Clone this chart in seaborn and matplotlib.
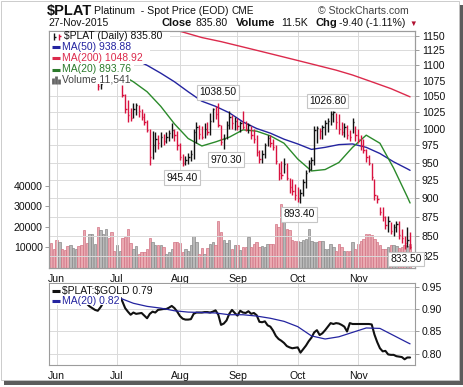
import numpy as np
import pandas as pd
import matplotlib
matplotlib.use("Agg")
import matplotlib.pyplot as plt
import seaborn as sns
from matplotlib.patches import Rectangle
from matplotlib.lines import Line2D
from matplotlib.ticker import FuncFormatter, NullLocator

# ---------------- data ----------------
start_date = "2015-05-28"
end_date = "2015-11-27"
month_labels = ["Jun", "Jul", "Aug", "Sep", "Oct", "Nov"]

close = [1108, 1104, 1098, 1106, 1100, 1092, 1088, 1095, 1102, 1108,
         1100, 1094, 1085, 1080, 1086, 1090, 1094, 1066, 1070, 1078,
         1084, 1080, 1077, 1074, 1078, 1082, 1052, 1030, 1020, 1016,
         1030, 1036, 1026, 1018, 1010, 998, 958, 975, 985, 978,
         988, 982, 988, 993, 998, 990, 975, 958, 950, 954,
         958, 963, 995, 1002, 992, 988, 1000, 995, 1012, 1030,
         1022, 1005, 980, 985, 1005, 1018, 1008, 1012, 1004, 1008,
         1003, 1000, 1005, 990, 984, 965, 955, 962, 975, 986,
         978, 972, 952, 935, 932, 948, 928, 915, 910, 905,
         900, 908, 922, 935, 950, 954, 998, 1001, 996, 1002,
         1008, 1012, 1022, 1025, 1010, 1000, 995, 1002, 990, 988,
         1010, 990, 985, 975, 968, 958, 950, 930, 905, 899,
         882, 875, 865, 870, 857, 862, 866, 852, 848, 842,
         845.2, 835.8]
high = [1115, 1112, 1108, 1110, 1108, 1100, 1094, 1098, 1106, 1112,
        1108, 1102, 1095, 1088, 1090, 1094, 1098, 1072, 1074, 1082,
        1088, 1086, 1082, 1080, 1082, 1086, 1068, 1053, 1044, 1032,
        1039, 1039, 1036, 1030, 1023, 1013, 1000, 996, 994, 990,
        994, 992, 995, 998, 1008, 1000, 996, 978, 962, 960,
        964, 968, 1000, 1010, 1006, 1004, 1008, 1010, 1024, 1032,
        1034, 1038.5, 1006, 992, 1012, 1026, 1020, 1018, 1016, 1012,
        1026, 1012, 1009, 1004, 1000, 990, 968, 968, 979, 990,
        991, 985, 975, 950, 952, 956, 950, 928, 926, 920,
        916, 913, 927, 940, 954, 958, 1004, 1004, 1001, 1005,
        1013, 1016, 1026.8, 1026, 1024, 1022, 1010, 1009, 1005, 998,
        1016, 1004, 1000, 990, 985, 970, 961, 950, 926, 905,
        889, 888, 876, 876, 868, 866, 870, 870, 859, 851,
        862, 856]
low = [1100, 1098, 1092, 1096, 1096, 1088, 1082, 1086, 1094, 1100,
       1096, 1090, 1080, 1075, 1076, 1084, 1088, 1060, 1062, 1073,
       1076, 1076, 1073, 1073, 1073, 1076, 1049, 1024, 1010, 1012,
       1016, 1021, 1018, 1013, 1006, 995, 947, 955, 965, 970,
       973, 975, 978, 982, 986, 982, 968, 954, 945.4, 947,
       948, 952, 955, 978, 985, 984, 986, 990, 990, 1010,
       1015, 1002, 976, 970.3, 984, 1000, 1000, 998, 998, 995,
       1000, 996, 993, 984, 979, 960, 950, 950, 957, 974,
       972, 968, 948, 925, 926, 935, 925, 908, 905, 898,
       895, 893.4, 903, 914, 937, 940, 947, 979, 985, 985,
       990, 995, 1006, 1010, 1000, 992, 990, 988, 985, 982,
       993, 982, 979, 968, 964, 951, 946, 925, 898, 894,
       878, 870, 860, 856, 853, 851, 855, 846, 842, 833.5,
       836, 834]
volume = [12300, 9400, 13800, 12600, 9400, 8900, 10500, 11000, 9900, 9400,
          10500, 11000, 18600, 12300, 16700, 16400, 11800, 20200, 18300, 16700,
          19100, 14700, 17800, 8500, 11000, 8500, 14700, 15000, 19100, 12000,
          9100, 10500, 6600, 8000, 7700, 9100, 14700, 12900, 11400, 11400,
          11000, 10200, 7000, 7700, 9400, 12500, 12500, 12000, 7700, 9100,
          8500, 11400, 15500, 12900, 7000, 9700, 6600, 9700, 11800, 12600,
          11400, 22800, 17800, 13800, 12000, 13500, 9400, 11000, 11000, 8900,
          10200, 10200, 15000, 10200, 11500, 12600, 10200, 10500, 10200, 11500,
          11500, 11500, 21500, 20200, 31300, 24000, 19100, 18300, 13800, 13400,
          13400, 12600, 13800, 14100, 19100, 13400, 12600, 12600, 13400, 13400,
          9400, 9400, 11800, 10200, 8500, 11800, 10200, 8500, 8500, 8500,
          12600, 9400, 11800, 13400, 14100, 16700, 16700, 15900, 14100, 12600,
          11000, 9400, 9400, 10200, 11000, 11000, 10500, 9800, 10200, 11000,
          10500, 11541]
ratio = [0.930, 0.930, 0.925, 0.930, 0.925, 0.920, 0.918, 0.922, 0.925, 0.930,
         0.925, 0.920, 0.915, 0.913, 0.907, 0.903, 0.899, 0.897, 0.905, 0.915,
         0.922, 0.920, 0.925, 0.928, 0.930, 0.931, 0.918, 0.903, 0.895, 0.888,
         0.893, 0.890, 0.891, 0.892, 0.886, 0.880, 0.890, 0.895, 0.893, 0.899,
         0.900, 0.901, 0.901, 0.904, 0.908, 0.903, 0.895, 0.885, 0.879, 0.877,
         0.877, 0.878, 0.890, 0.893, 0.893, 0.893, 0.894, 0.894, 0.893, 0.895,
         0.898, 0.888, 0.865, 0.868, 0.875, 0.890, 0.899, 0.892, 0.886, 0.897,
         0.893, 0.892, 0.896, 0.890, 0.892, 0.887, 0.872, 0.871, 0.873, 0.864,
         0.861, 0.852, 0.840, 0.833, 0.829, 0.824, 0.817, 0.814, 0.812, 0.813,
         0.814, 0.802, 0.810, 0.818, 0.828, 0.836, 0.848, 0.853, 0.842, 0.846,
         0.853, 0.861, 0.869, 0.867, 0.869, 0.868, 0.865, 0.861, 0.850, 0.869,
         0.867, 0.867, 0.867, 0.867, 0.867, 0.867, 0.867, 0.866, 0.843, 0.826,
         0.812, 0.805, 0.806, 0.798, 0.797, 0.797, 0.794, 0.793, 0.792, 0.787,
         0.791, 0.791]

ma_idx = [20, 25, 30, 35, 40, 45, 50, 55, 60, 65, 70, 75, 80, 85, 90, 95,
          100, 105, 110, 115, 120, 125, 130, 131]
ma20 = [1094, 1086, 1073, 1057, 1034, 1007, 985, 974, 980, 987, 998, 996,
        989, 978, 955, 938, 940, 950, 972, 990, 978, 942, 902, 893.76]
ma50 = [1128, 1120, 1111, 1100, 1087, 1073, 1057, 1042, 1034, 1024, 1010, 1000,
        993, 984, 977, 969, 972, 976, 977, 972, 963, 951, 941, 938.88]
ma200_idx = [40, 47, 55, 62, 69, 76, 83, 90, 97, 104, 110, 117, 124, 131]
ma200 = [1168, 1158, 1147, 1140, 1132, 1124, 1116, 1108, 1100, 1092, 1084,
         1073, 1062, 1048.92]
ratio_ma = [0.930, 0.926, 0.914, 0.907, 0.903, 0.897, 0.894, 0.893, 0.892, 0.888,
            0.888, 0.885, 0.880, 0.873, 0.861, 0.840, 0.833, 0.838, 0.848, 0.858,
            0.857, 0.841, 0.825, 0.822]

price_ticks = [825, 850, 875, 900, 925, 950, 975, 1000, 1025, 1050, 1075, 1100, 1125, 1150]
volume_ticks = [10000, 20000, 30000, 40000]
ratio_ticks = [0.80, 0.85, 0.90, 0.95]

# ---------------- setup ----------------
sns.set_theme(style="white")
plt.rcParams['font.family'] = ['Liberation Sans', 'DejaVu Sans']

dates = pd.bdate_range(start_date, end_date)
x = np.arange(len(dates))
month_pos = [int(np.argmax((dates.month == m) & (dates.year == 2015))) for m in range(6, 12)]

close_a = np.array(close, float)
high_a = np.array(high, float)
low_a = np.array(low, float)
prev = np.r_[close_a[0] + 1, close_a[:-1]]
up = close_a >= prev

RED = '#d8123f'
BAR_COLORS = np.where(up, '#111111', RED)
VFILL = np.where(up, '#b9b9b9', '#eaa9b1')
VEDGE = np.where(up, '#8a8a8a', '#d27484')
GRID = '#dadada'
SPINE = '#9c9c9c'
BLUE = '#2424a0'
GREEN = '#2b8a2b'
MA200C = '#dc2a4c'

W, H = 464, 387


def fx(px):
    return px / W


def fy(py):
    return 1 - py / H


def fbox(l, t, r, b):
    return [l / W, 1 - b / H, (r - l) / W, (b - t) / H]


fig = plt.figure(figsize=(W / 100, H / 100), dpi=100)
fig.patch.set_facecolor('white')

# frame + shadow
fig.add_artist(Rectangle((fx(4), fy(385)), 459 / W, 380 / H, transform=fig.transFigure,
                         fc='#5c5c5c', ec='none', zorder=-10))
fig.add_artist(Rectangle((fx(0.5), fy(380)), 458.5 / W, 379.5 / H, transform=fig.transFigure,
                         fc='white', ec='#c4c4c4', lw=0.6, zorder=-9))

# ---------------- main panel ----------------
axv = fig.add_axes(fbox(49, 31, 415, 268))
ax = axv.twinx()

axv.bar(x, volume, width=0.86, color=VFILL, edgecolor=VEDGE, linewidth=0.5, zorder=2)
axv.set_ylim(0, 115600)
axv.set_xlim(-0.8, 132.8)
axv.set_yticks(volume_ticks)
axv.yaxis.set_major_formatter(FuncFormatter(lambda v, p: f"{v:.0f}"))
axv.set_xticks(month_pos)
axv.set_xticklabels(month_labels)
axv.tick_params(axis='both', labelsize=7.6, length=3, width=0.7, pad=1.5,
                direction='out', color=SPINE, labelcolor='#111111')

ax.set_yscale('log')
ax.set_ylim(810.3, 1158.4)
ax.set_yticks(price_ticks)
ax.yaxis.set_minor_locator(NullLocator())
ax.yaxis.set_major_formatter(FuncFormatter(lambda v, p: f"{v:.0f}"))
ax.tick_params(axis='y', labelsize=7.6, length=3, width=0.7, color=SPINE, pad=2, labelcolor='#111111')
ax.yaxis.grid(True, color=GRID, lw=0.7)
for mp in month_pos:
    ax.axvline(mp, color=GRID, lw=0.7, zorder=0.5)

for a in (ax, axv):
    for s in a.spines.values():
        s.set_color(SPINE)
        s.set_linewidth(0.8)

# moving averages
sns.lineplot(x=ma200_idx, y=ma200, ax=ax, color=MA200C, linewidth=1.0, legend=False)
sns.lineplot(x=ma_idx, y=ma50, ax=ax, color=BLUE, linewidth=1.0, legend=False)
sns.lineplot(x=ma_idx, y=ma20, ax=ax, color=GREEN, linewidth=1.0, legend=False)

# HLC bars
ax.vlines(x, low_a, high_a, colors=BAR_COLORS, linewidth=1.0, zorder=3)
ax.hlines(close_a, x, x + 0.5, colors=BAR_COLORS, linewidth=1.0, zorder=3)
ax.set_xlim(-0.8, 132.8)
ax.set_xlabel('')
ax.set_ylabel('')
axv.set_ylabel('')

# value labels
box = dict(boxstyle='square,pad=0.22', fc='white', ec='#c6c6c6', lw=0.8)
labels = [(61, high_a[61], 0, 11), (48, low_a[48], -1, -12), (63, low_a[63], 2, -11),
          (102, high_a[102], -3, 10), (91, low_a[91], -1.5, -11), (129, low_a[129], 1.5, -9.5)]
for i, v, dx, dy in labels:
    ax.annotate(f"{v:.2f}", xy=(i, v), xytext=(dx, dy), textcoords='offset pixels',
                ha='center', va='center', fontsize=7.4, color='#111111', bbox=box,
                zorder=10, annotation_clip=False)

# ---------------- ratio panel ----------------
ax2 = fig.add_axes(fbox(49, 283, 415, 365))
sns.lineplot(x=x, y=ratio, ax=ax2, color='#111111', linewidth=1.5, legend=False)
sns.lineplot(x=ma_idx, y=ratio_ma, ax=ax2, color=BLUE, linewidth=0.9, legend=False)
ax2.set_xlim(-0.8, 132.8)
ax2.set_ylim(0.774, 0.96)
ax2.set_yticks(ratio_ticks)
ax2.yaxis.set_major_formatter(FuncFormatter(lambda v, p: f"{v:.2f}"))
ax2.yaxis.tick_right()
ax2.set_xticks(month_pos)
ax2.set_xticklabels(month_labels)
ax2.tick_params(axis='both', labelsize=7.6, length=3, width=0.7, color=SPINE, pad=1.5,
                labelcolor='#111111')
ax2.tick_params(axis='y', pad=2)
ax2.grid(True, color=GRID, lw=0.7)
ax2.set_xlabel('')
ax2.set_ylabel('')
for s in ax2.spines.values():
    s.set_color(SPINE)
    s.set_linewidth(0.8)


# ---------------- text / legends ----------------
def px_line(x0, y0, x1, y1, color, lw, z=7):
    fig.add_artist(Line2D([fx(x0), fx(x1)], [fy(y0), fy(y1)], transform=fig.transFigure,
                          color=color, lw=lw, zorder=z, solid_capstyle='butt'))


def px_rect(l, t, r, b, fc='white', z=5):
    fig.add_artist(Rectangle((fx(l), fy(b)), (r - l) / W, (b - t) / H, transform=fig.transFigure,
                             fc=fc, ec='none', lw=0, zorder=z))


def px_text(xp, yp, s, **kw):
    kw.setdefault('va', 'center')
    kw.setdefault('ha', 'left')
    kw.setdefault('zorder', 8)
    kw.setdefault('color', '#111111')
    fig.text(fx(xp), fy(yp), s, **kw)


LEG = 7.5

# header
px_text(47, 10.5, r"\$PLAT", fontsize=10.5, fontweight='bold')
px_text(94, 10.5, "Platinum  - Spot Price (EOD)", fontsize=7.6)
px_text(232, 11, "CME", fontsize=7.2)
px_text(318, 10.5, "\u00a9 StockCharts.com", fontsize=7.6, color='#444444')
px_text(48, 23.5, "27-Nov-2015", fontsize=7.5)
px_text(161, 23.5, "Close", fontsize=8, fontweight='bold')
px_text(195, 23.5, "835.80", fontsize=7.6)
px_text(236, 23.5, "Volume", fontsize=8, fontweight='bold')
px_text(281, 23.5, "11.5K", fontsize=7.6)
px_text(315, 23.5, "Chg", fontsize=8, fontweight='bold')
px_text(339, 23.5, "-9.40 (-1.11%)", fontsize=7.6)
px_text(409, 24, "\u25bc", fontsize=5.5, color='#b01030')

# main legend
px_rect(50, 31.8, 170, 41)
px_rect(50, 41, 150, 52.5)
px_rect(50, 52.5, 158, 64)
px_rect(50, 64, 134, 75)
px_rect(50, 75, 130, 84)
# price bar icon
px_line(54, 32.5, 54, 39.5, '#111111', 1.0)
px_line(54, 37, 56, 37, '#111111', 1.0)
px_line(59, 33.5, 59, 39.5, RED, 1.0)
px_line(59, 36, 61, 36, RED, 1.0)
px_text(64, 36, r"\$PLAT (Daily) 835.80", fontsize=LEG)
px_line(52, 46.5, 60, 46.5, BLUE, 2.2)
px_text(62.5, 46.5, "MA(50) 938.88", fontsize=LEG, color=BLUE)
px_line(52, 58, 60, 58, MA200C, 2.2)
px_text(62.5, 58, "MA(200) 1048.92", fontsize=LEG, color=MA200C)
px_line(52, 69.5, 60, 69.5, '#2b7a2b', 2.2)
px_text(62.5, 69.5, "MA(20) 893.76", fontsize=LEG, color='#2b7a2b')
for bx, bt in ((53, 78), (56, 76), (59, 79)):
    px_line(bx, bt, bx, 83.5, '#666666', 2.0)
px_text(62.5, 80, "Volume 11,541", fontsize=LEG, color='#444444')

# ratio legend
px_rect(50, 284, 170, 297)
px_rect(50, 297, 121, 305)
px_line(52, 291, 60, 291, '#111111', 2.2)
px_text(62.5, 291, r"\$PLAT:\$GOLD 0.79", fontsize=LEG)
px_line(52, 301, 60, 301, BLUE, 2.2)
px_text(62.5, 301, "MA(20) 0.82", fontsize=LEG, color=BLUE)

fig.savefig("out.png", dpi=100)
